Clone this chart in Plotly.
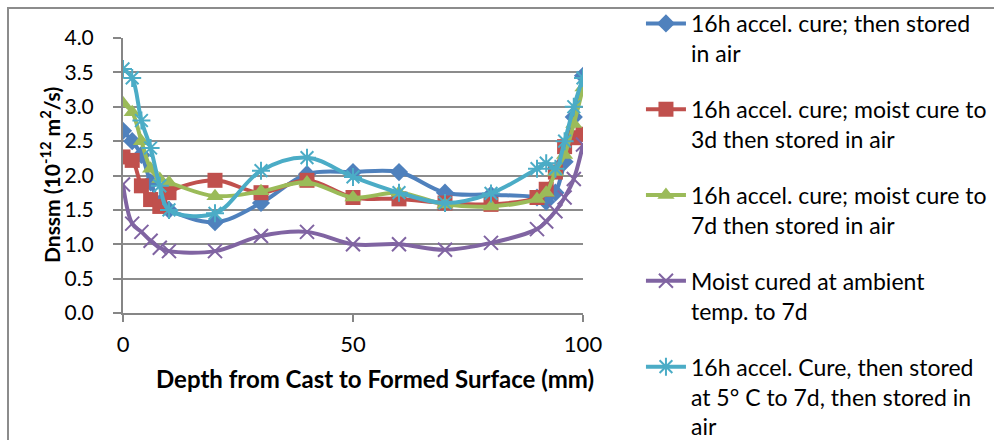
import plotly.graph_objects as go

depth = [0, 2, 4, 6, 8, 10, 20, 30, 40, 50, 60, 70, 80, 90, 92, 94, 96, 98, 100]

s_air = [2.65, 2.5, 2.3, 1.9, 1.6, 1.5, 1.32, 1.6, 2.02, 2.05, 2.05, 1.75, 1.72, 1.68, 1.62, 1.75, 2.2, 2.85, 3.45]
s_moist3 = [2.27, 2.22, 1.85, 1.65, 1.55, 1.75, 1.93, 1.75, 1.93, 1.68, 1.66, 1.6, 1.58, 1.68, 1.8, 2.05, 2.42, 2.55, 2.6]
s_moist7 = [3.05, 2.92, 2.5, 2.1, 1.95, 1.9, 1.7, 1.77, 1.9, 1.68, 1.75, 1.58, 1.55, 1.66, 1.75, 2.05, 2.3, 2.75, 3.28]
s_ambient = [1.87, 1.3, 1.18, 1.05, 0.95, 0.9, 0.9, 1.12, 1.18, 1.0, 1.0, 0.92, 1.02, 1.22, 1.33, 1.48, 1.68, 1.95, 2.45]
s_cold = [3.55, 3.42, 2.8, 2.4, 1.85, 1.5, 1.45, 2.07, 2.26, 1.98, 1.75, 1.6, 1.74, 2.1, 2.18, 2.1, 2.5, 3.0, 3.42]

names = [
    "16h accel. cure; then stored<br>in air",
    "16h accel. cure; moist cure to<br>3d then stored in air",
    "16h accel. cure; moist cure to<br>7d then stored in air",
    "Moist cured at ambient<br>temp. to 7d",
    "16h accel. Cure, then stored<br>at 5\u00b0 C to 7d, then stored in<br>air",
]
colors = ["#4F81BD", "#C0504D", "#9BBB59", "#8064A2", "#4BACC6"]
symbols = ["diamond", "square", "triangle-up", "x-thin", "asterisk"]
sizes = [14, 15, 15, 14, 15]
series = [s_air, s_moist3, s_moist7, s_ambient, s_cold]

x_title = "<b>Depth from Cast to Formed Surface (mm)</b>"
y_title = "<b>Dnssm (10<sup>-12</sup> m<sup>2</sup>/s)</b>"

FONT = "Lato"
fig = go.Figure()
for i, (ys, nm, c, sym, sz) in enumerate(zip(series, names, colors, symbols, sizes)):
    thin = sym in ("x-thin", "asterisk")
    fig.add_trace(go.Scatter(
        x=depth, y=ys, name=nm, mode="lines+markers",
        legendgroup=str(i),
        line=dict(color=c, width=4, shape="spline", smoothing=1.0),
        marker=dict(symbol=sym, size=sz, color=c,
                    line=dict(color=c, width=2 if thin else 0)),
    ))

fig.update_layout(
    width=994, height=440,
    margin=dict(l=123, r=411, t=38, b=127, autoexpand=False),
    paper_bgcolor="white", plot_bgcolor="white",
    font=dict(family=FONT, color="#000000"),
    showlegend=True,
    legend=dict(x=1.126, y=1.131, xanchor="left", yanchor="top",
                font=dict(family=FONT, size=23, color="#000000"),
                valign="top", tracegroupgap=23, itemwidth=40,
                maxheight=1000,
                bgcolor="rgba(0,0,0,0)"),
    xaxis=dict(range=[0, 100], tickvals=[0, 50, 100], ticks="outside", ticklen=7,
               tickcolor="#868686", tickwidth=2, showgrid=False,
               showline=True, linecolor="#868686", linewidth=2,
               ticklabelstandoff=4, automargin=False,
               tickfont=dict(family=FONT, size=22, color="#000000"),
               zeroline=False),
    yaxis=dict(range=[0, 4], dtick=0.5, tickformat=".1f", ticks="outside", ticklen=8,
               tickcolor="#868686", tickwidth=2, showgrid=True, gridcolor="#8C8C8C",
               gridwidth=2, showline=True, linecolor="#868686", linewidth=2,
               ticklabelstandoff=15, automargin=False,
               tickfont=dict(family=FONT, size=21, color="#000000"),
               zeroline=False),
)

fig.add_annotation(text=x_title, xref="paper", yref="paper",
                   x=(375 - 123) / 460, y=-(378 - 313) / 275,
                   xanchor="center", yanchor="middle", showarrow=False,
                   font=dict(family=FONT, size=24, color="#000000"))
fig.add_annotation(text=y_title, xref="paper", yref="paper",
                   x=(50 - 123) / 460, y=(313 - 175) / 275, textangle=-90,
                   xanchor="center", yanchor="middle", showarrow=False,
                   font=dict(family=FONT, size=21, color="#000000"))

fig.add_shape(type="rect", xref="paper", yref="paper",
              x0=(8 - 123) / 460, x1=2.0, y0=-1.0, y1=(313 - 8) / 275,
              line=dict(color="#8C8C8C", width=2), fillcolor="rgba(0,0,0,0)", layer="below")

fig.write_html("out.html")
